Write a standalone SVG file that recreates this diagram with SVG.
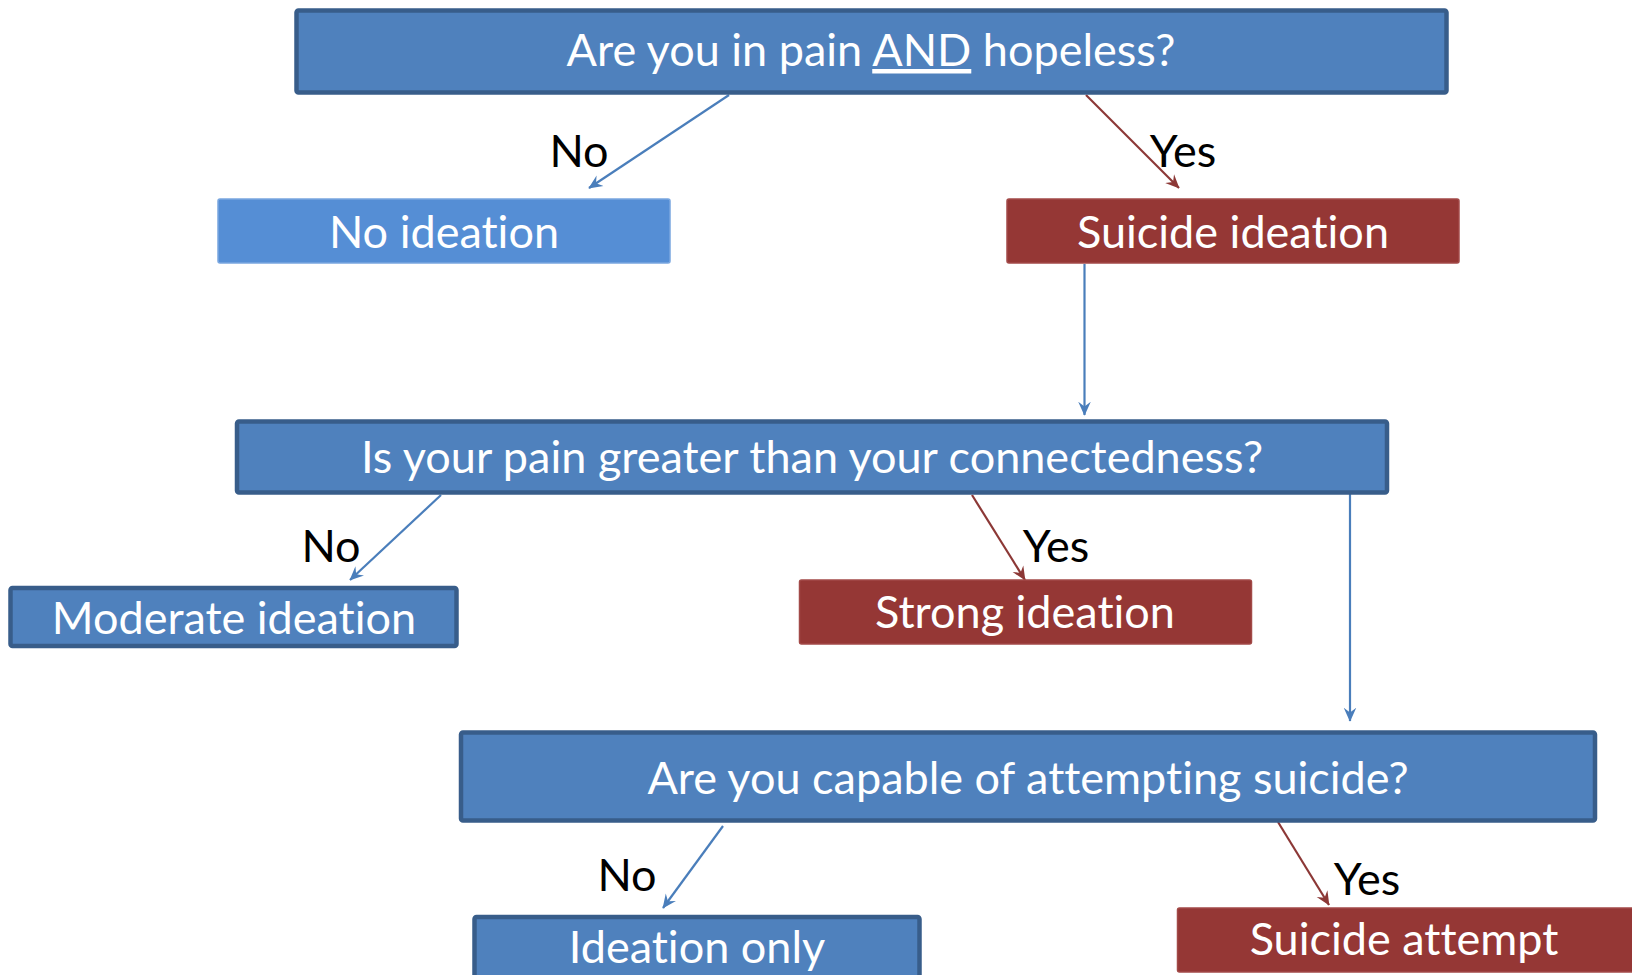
<svg xmlns="http://www.w3.org/2000/svg" width="1632" height="975" viewBox="0 0 1632 975">
<defs>
<style>
.q{fill:#4f81bd;stroke:#385d8a;stroke-width:4.5}
.lb{fill:#558ed5;stroke:#7aa7e0;stroke-width:1.5}
.rd{fill:#953735;stroke:#a24a48;stroke-width:1.5}
.t{font-family:Lato,"Open Sans",sans-serif;font-size:45px;fill:#ffffff;text-anchor:middle;font-variant-ligatures:none}
.l{font-family:Lato,"Open Sans",sans-serif;font-size:45px;fill:#000000;text-anchor:middle;font-variant-ligatures:none}
.cb{stroke:#4a7ebb;stroke-width:2.2;fill:none;marker-end:url(#ab)}
.cr{stroke:#8c3836;stroke-width:2.2;fill:none;marker-end:url(#ar)}
</style>
<marker id="ab" viewBox="0 0 10 10" refX="9.5" refY="5" markerWidth="14" markerHeight="14" markerUnits="userSpaceOnUse" orient="auto"><path d="M0,0.5 L10,5 L0,9.5 L3.5,5 z" fill="#4a7ebb"/></marker>
<marker id="ar" viewBox="0 0 10 10" refX="9.5" refY="5" markerWidth="14" markerHeight="14" markerUnits="userSpaceOnUse" orient="auto"><path d="M0,0.5 L10,5 L0,9.5 L3.5,5 z" fill="#8c3836"/></marker>
</defs>
<rect width="1632" height="975" fill="#ffffff"/>
<g id="connectors">
<line class="cb" x1="729" y1="95" x2="589" y2="188"/>
<line class="cr" x1="1086" y1="95" x2="1179" y2="188"/>
<line class="cb" x1="1084.5" y1="264" x2="1084.5" y2="415"/>
<line class="cb" x1="441" y1="495" x2="350" y2="580"/>
<line class="cr" x1="972" y1="495" x2="1025" y2="580"/>
<line class="cb" x1="1350" y1="492" x2="1350" y2="721"/>
<line class="cb" x1="723" y1="826" x2="663" y2="908"/>
<line class="cr" x1="1278" y1="822" x2="1329" y2="905"/>
<text class="l" x="579" y="167">No</text>
<text class="l" x="1183" y="167">Yes</text>
<text class="l" x="331" y="562">No</text>
<text class="l" x="1056" y="562">Yes</text>
<text class="l" x="627" y="891">No</text>
<text class="l" x="1367" y="895">Yes</text>
</g>
<g id="q1">
<rect class="q" x="296.5" y="10.5" width="1150" height="82" rx="2"/>
<text class="t" x="871" y="66">Are you in pain <tspan text-decoration="underline">AND</tspan> hopeless?</text>
</g>
<g id="no-ideation">
<rect class="lb" x="218" y="199" width="452" height="64" rx="2"/>
<text class="t" x="444" y="248">No ideation</text>
</g>
<g id="suicide-ideation">
<rect class="rd" x="1007" y="199" width="452" height="64" rx="2"/>
<text class="t" x="1233" y="248">Suicide ideation</text>
</g>
<g id="q2">
<rect class="q" x="237" y="421.5" width="1150" height="71" rx="2"/>
<text class="t" x="812" y="473">Is your pain greater than your connectedness?</text>
</g>
<g id="moderate">
<rect class="q" x="10.5" y="588" width="446" height="58" rx="2"/>
<text class="t" x="234" y="634">Moderate ideation</text>
</g>
<g id="strong">
<rect class="rd" x="799.5" y="580" width="452" height="64" rx="2"/>
<text class="t" x="1025" y="628">Strong ideation</text>
</g>
<g id="q3">
<rect class="q" x="461" y="732.5" width="1134" height="88" rx="2"/>
<text class="t" x="1028" y="794">Are you capable of attempting suicide?</text>
</g>
<g id="ideation-only">
<rect class="q" x="474.5" y="917" width="445" height="64" rx="2"/>
<text class="t" x="697" y="963">Ideation only</text>
</g>
<g id="suicide-attempt">
<rect class="rd" x="1177.5" y="908" width="456" height="64" rx="2"/>
<text class="t" x="1404" y="955">Suicide attempt</text>
</g>
</svg>
